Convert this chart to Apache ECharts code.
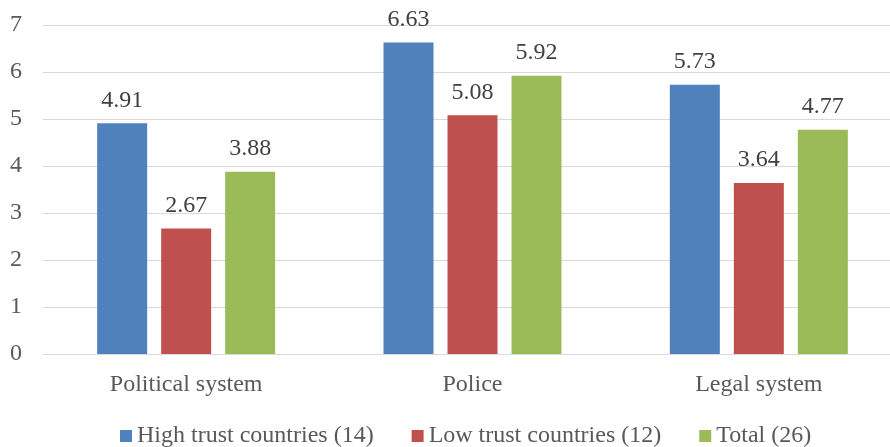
<!DOCTYPE html>
<html>
<head>
<meta charset="utf-8">
<script src="https://cdn.jsdelivr.net/npm/echarts@6/dist/echarts.min.js"></script>
<style>
html, body { margin: 0; padding: 0; background: #fff; }
#chart { width: 890px; height: 447px; }
</style>
</head>
<body>
<div id="chart"></div>
<script>
var categories = ['Political system', 'Police', 'Legal system'];
var seriesNames = ['High trust countries (14)', 'Low trust countries (12)', 'Total (26)'];
var highTrust = [4.91, 6.63, 5.73];
var lowTrust = [2.67, 5.08, 3.64];
var total = [3.88, 5.92, 4.77];
var colors = ['#4F81BD', '#C0504D', '#9BBB59'];

var font = '"Liberation Serif", "Times New Roman", serif';
var textColor = '#595959';

function bar(name, data, color) {
  return {
    name: name,
    type: 'bar',
    data: data,
    barWidth: 50,
    barGap: '28%',
    itemStyle: { color: color },
    label: {
      show: true,
      position: 'top',
      distance: 11,
      fontFamily: font,
      fontSize: 24,
      color: '#404040',
      formatter: function (p) { return p.value.toFixed(2) }
    }
  }
}

var chart = echarts.init(document.getElementById('chart'));
chart.setOption({
  animation: false,
  color: colors,
  // plot runs a little past the right edge, as in the original
  grid: { left: 43, right: -12, top: 25, bottom: 93, outerBoundsMode: 'none', containLabel: false },
  legend: {
    top: 424,
    left: 120,
    padding: 0,
    itemWidth: 12,
    itemHeight: 12,
    itemGap: 38,
    icon: 'rect',
    textStyle: { fontFamily: font, fontSize: 24, color: textColor }
  },
  xAxis: {
    type: 'category',
    data: categories,
    axisTick: { show: false },
    axisLine: { lineStyle: { color: '#D9D9D9', width: 1 } },
    axisLabel: { fontFamily: font, fontSize: 24, color: textColor, margin: 19 }
  },
  yAxis: {
    type: 'value',
    min: 0,
    max: 7,
    interval: 1,
    axisLine: { show: false },
    axisTick: { show: false },
    splitLine: { lineStyle: { color: '#D9D9D9', width: 1 } },
    axisLabel: { fontFamily: font, fontSize: 24, color: textColor, margin: 21 }
  },
  series: [
    bar(seriesNames[0], highTrust, colors[0]),
    bar(seriesNames[1], lowTrust, colors[1]),
    bar(seriesNames[2], total, colors[2])
  ]
});
</script>
</body>
</html>
